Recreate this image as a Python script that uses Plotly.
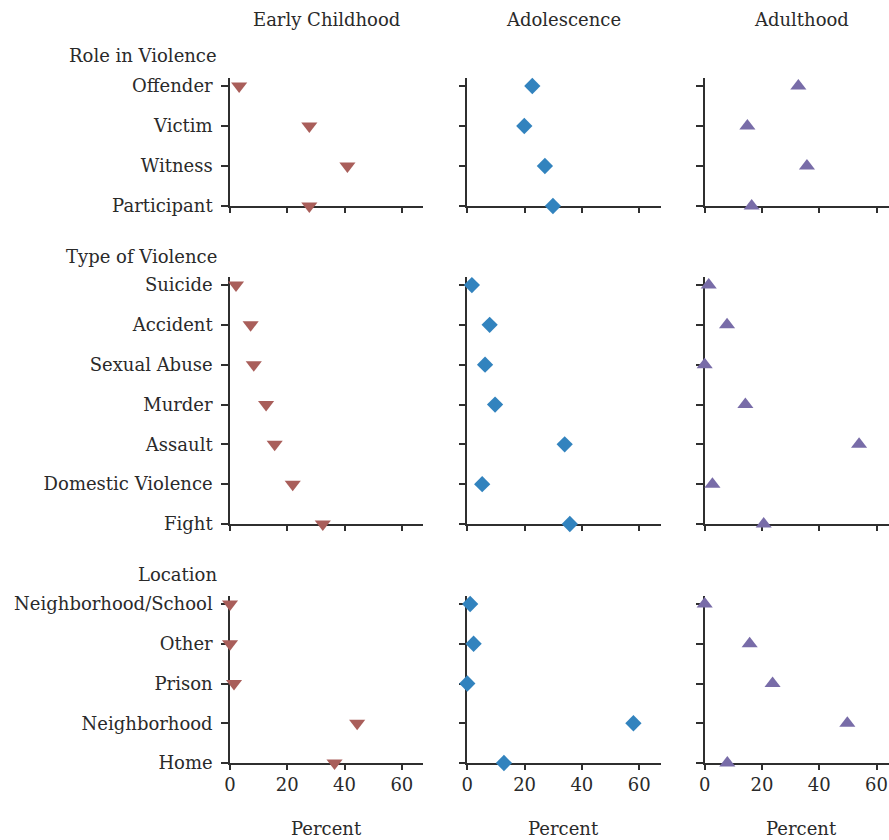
import plotly.graph_objects as go

W, H = 889, 840

stages = ["Early Childhood", "Adolescence", "Adulthood"]
groups = ["Role in Violence", "Type of Violence", "Location"]

role_cats = ["Offender", "Victim", "Witness", "Participant"]
type_cats = ["Suicide", "Accident", "Sexual Abuse", "Murder", "Assault", "Domestic Violence", "Fight"]
loc_cats = ["Neighborhood/School", "Other", "Prison", "Neighborhood", "Home"]

early_role = [3.2, 27.7, 41.0, 27.7]
early_type = [2.1, 7.2, 8.3, 12.6, 15.6, 21.9, 32.4]
early_loc = [0.0, 0.0, 1.4, 44.4, 36.5]

adol_role = [22.7, 19.9, 27.1, 29.9]
adol_type = [1.6, 7.8, 6.2, 9.7, 34.0, 5.2, 35.8]
adol_loc = [1.0, 2.2, 0.0, 58.0, 12.8]

adult_role = [32.7, 14.9, 35.7, 16.4]
adult_type = [1.4, 7.8, 0.0, 14.2, 53.9, 2.7, 20.6]
adult_loc = [0.0, 15.7, 23.7, 49.8, 7.9]

x_ticks = [0, 20, 40, 60]
x_title = "Percent"

cats = [role_cats, type_cats, loc_cats]
values = [
    [early_role, early_type, early_loc],
    [adol_role, adol_type, adol_loc],
    [adult_role, adult_type, adult_loc],
]
symbols = ["triangle-down", "diamond", "triangle-up"]
colors = ["#A95E5A", "#3283BE", "#786CA8"]
sizes = [14, 12.5, 14]

FONT = "DejaVu Serif"
FS = 18
TXT = "#2a2a2a"
LINE = "#2f2f2f"

# pixel layout
col_x0 = [230.0, 467.3, 704.7]
px_per_unit = 2.864
col_right = [423.3, 660.7, 889.0]
row_bottom = [206.0, 524.0, 763.0]
row_step = [40.0, 39.83, 39.75]

def px(x):
    return x / W

def py(y):
    return 1 - y / H

fig = go.Figure()
layout = {}
for c in range(3):
    for r in range(3):
        idx = r * 3 + c + 1
        n = len(cats[r])
        yvals = [n - 1 - i for i in range(n)]
        xa = "x" if idx == 1 else f"x{idx}"
        ya = "y" if idx == 1 else f"y{idx}"
        fig.add_trace(go.Scatter(
            x=values[c][r], y=yvals, mode="markers",
            marker=dict(symbol=symbols[c], color=colors[c], size=sizes[c],
                        line=dict(width=0)),
            cliponaxis=False, showlegend=False, hoverinfo="x+y",
            xaxis=xa, yaxis=ya,
        ))
        xmax = (col_right[c] - col_x0[c]) / px_per_unit
        top_units = n - 1 + 0.2
        top_px = row_bottom[r] - top_units * row_step[r]
        layout["xaxis" if idx == 1 else f"xaxis{idx}"] = dict(
            domain=[px(col_x0[c]), px(col_right[c])],
            range=[0, xmax], anchor=ya, automargin=False, layer="below traces",
            tickvals=x_ticks, ticktext=[str(t) for t in x_ticks],
            showticklabels=(r == 2), ticks="outside", ticklen=5, tickwidth=1.5,
            tickcolor=LINE, showline=True, linecolor=LINE, linewidth=1.5,
            showgrid=False, zeroline=False, fixedrange=True,
            tickfont=dict(family=FONT, size=FS, color=TXT),
        )
        layout["yaxis" if idx == 1 else f"yaxis{idx}"] = dict(
            domain=[py(row_bottom[r]), py(top_px)],
            range=[0, top_units], anchor=xa, automargin=False, layer="below traces",
            tickvals=yvals, ticktext=cats[r], ticklabelstandoff=5,
            showticklabels=(c == 0), ticks="outside", ticklen=7, tickwidth=1.5,
            tickcolor=LINE, showline=True, linecolor=LINE, linewidth=1.5,
            showgrid=False, zeroline=False, fixedrange=True,
            tickfont=dict(family=FONT, size=FS, color=TXT),
        )

annotations = []
for c in range(3):
    cx = px(col_x0[c] + 193.3 / 2)
    annotations.append(dict(text=stages[c], x=cx, y=py(19),
                            xref="paper", yref="paper", showarrow=False,
                            xanchor="center", yanchor="middle",
                            font=dict(family=FONT, size=FS, color=TXT)))
    annotations.append(dict(text=x_title, x=cx, y=py(828),
                            xref="paper", yref="paper", showarrow=False,
                            xanchor="center", yanchor="middle",
                            font=dict(family=FONT, size=FS, color=TXT)))
header_y = [56, 256, 574]
for r in range(3):
    annotations.append(dict(text=groups[r], x=px(219), y=py(header_y[r]),
                            xref="paper", yref="paper", showarrow=False,
                            xanchor="right", yanchor="middle",
                            font=dict(family=FONT, size=FS, color=TXT)))

fig.update_layout(
    width=W, height=H,
    margin=dict(l=0, r=0, t=0, b=0, pad=0, autoexpand=False),
    paper_bgcolor="white", plot_bgcolor="white",
    annotations=annotations, **layout,
)

fig.write_html(
    "out.html",
    config={"displayModeBar": False},
    post_script="document.body.style.margin='0';document.body.style.overflow='hidden';",
)
